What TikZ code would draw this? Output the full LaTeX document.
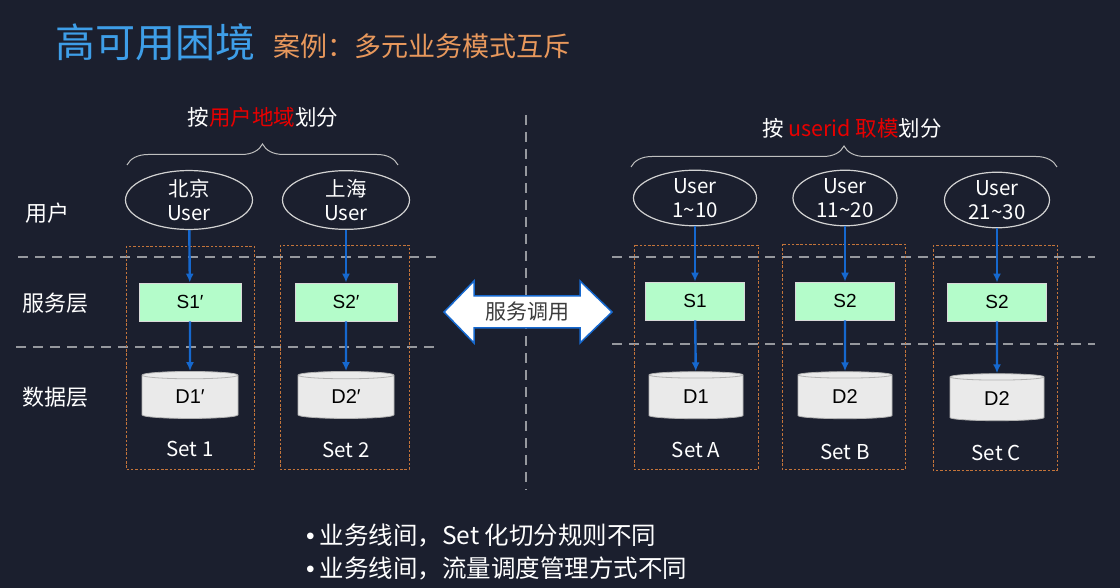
\documentclass[tikz,border=0pt]{standalone}
\usepackage{fontspec}
\setmainfont{Noto Sans CJK SC}
\newfontfamily\arialfont{Liberation Sans}
\usetikzlibrary{arrows.meta,shapes.geometric,decorations.pathreplacing}
\definecolor{bgnavy}{RGB}{27,31,46}
\definecolor{titleblue}{RGB}{62,158,232}
\definecolor{suborange}{RGB}{232,152,92}
\definecolor{setorange}{RGB}{196,116,58}
\definecolor{svcgreen}{RGB}{180,252,202}
\definecolor{dbgray}{RGB}{234,234,234}
\definecolor{flowblue}{RGB}{22,104,206}
\definecolor{sepgray}{RGB}{150,152,158}
\definecolor{hotred}{RGB}{232,0,0}
\definecolor{textgray}{RGB}{60,60,60}

\tikzset{%
  layer/.style={text=white, font=\fontsize{22}{26}\selectfont},
  user/.style={ellipse, draw=gray!35!white, line width=1.2pt, text=white, align=center, inner sep=0pt, minimum height=47pt, font=\fontsize{20.5}{24}\selectfont},
  svc/.style={draw=gray!30, line width=0.8pt, fill=svcgreen, minimum width=102pt, minimum height=38pt, inner sep=0pt, font=\arialfont\fontsize{19}{22}\selectfont},
  db/.style={cylinder, shape border rotate=90, aspect=0.25, draw=gray!60, line width=0.8pt, fill=dbgray, minimum width=96pt, minimum height=47pt, inner sep=0pt, font=\arialfont\fontsize{20}{22}\selectfont},
  setbox/.style={draw=setorange, line width=0.9pt, dash pattern=on 2.5pt off 1.8pt},
  setlabel/.style={text=white, font=\fontsize{20.5}{24}\selectfont},
  sep/.style={draw=sepgray, line width=1.8pt, dash pattern=on 10pt off 7pt},
  flow/.style={draw=flowblue, line width=2.4pt, -{LaTeX[length=9pt,width=8pt]}},
  part/.style={draw=gray!50!white, line width=1pt, decorate, decoration={brace, amplitude=21pt}},
  heading/.style={text=white, font=\fontsize{21.5}{25}\selectfont},
  bullet/.style={text=white, anchor=west, inner sep=0pt, font=\fontsize{24.5}{28}\selectfont},
}

\begin{document}
\begin{tikzpicture}[x=1pt,y=-1pt]
\fill[bgnavy] (0,0) rectangle (1120,588);
\useasboundingbox (0,0) rectangle (1120,588);

\node[anchor=west, text=titleblue, font=\fontsize{40}{46}\selectfont] (title) at (52,42) {高可用困境};
\node[anchor=west, text=suborange, font=\fontsize{27}{30}\selectfont] (subtitle) at (270,46) {案例：多元业务模式互斥};

% separators
\draw[sep] (18,257) -- (440,257);
\draw[sep] (16,347) -- (440,347);
\draw[sep] (612,257) -- (1095,257);
\draw[sep] (612,344) -- (1095,344);
\draw[sep] (526,115) -- (526,490);

% sets
\draw[setbox] (126,246) rectangle (254,469);
\draw[setbox] (280,245) rectangle (409,469);
\draw[setbox] (634,245) rectangle (758,469);
\draw[setbox] (782,244) rectangle (905,469);
\draw[setbox] (933,245) rectangle (1057,470);

\node[layer] (lyuser) at (47,213) {用户};
\node[layer] (lysvc) at (56,303) {服务层};
\node[layer] (lydata) at (56,397) {数据层};

% by region
\node[heading] (hdregion) at (263,117) {按\textcolor{hotred}{用户地域}划分};
\draw[part] (127,165) -- (398,165);
\node[user, minimum width=127pt] (ubj) at (189,200) {北京\\User};
\node[user, minimum width=127pt] (ush) at (346,200) {上海\\User};
\node[svc] (s1) at (190,302) {S1′};
\node[svc] (s2) at (346,302) {S2′};
\node[db] (d1) at (190,397) {D1′};
\node[db] (d2) at (346,397) {D2′};
\node[setlabel] (set1) at (190,449) {Set 1};
\node[setlabel] (set2) at (346,450) {Set 2};

% by userid
\node[heading] (hduid) at (852,128) {按 \textcolor{hotred}{userid 取模}划分};
\draw[part] (631,167) -- (1057,167);
\node[user, minimum width=123pt] (ua) at (695,198) {User\\1\textasciitilde10};
\node[user, minimum width=104pt] (ub) at (845,198) {User\\11\textasciitilde20};
\node[user, minimum width=105pt] (uc) at (997,200) {User\\21\textasciitilde30};
\node[svc, minimum width=99pt] (sa) at (695,301) {S1};
\node[svc, minimum width=99pt] (sb) at (845,301) {S2};
\node[svc, minimum width=99pt] (sc) at (997,302) {S2};
\node[db, minimum width=94pt] (da) at (696,397) {D1};
\node[db, minimum width=94pt] (db) at (845,397) {D2};
\node[db, minimum width=94pt] (dc) at (997,399) {D2};
\node[setlabel] (seta) at (696,450) {Set A};
\node[setlabel] (setb) at (845,452) {Set B};
\node[setlabel] (setc) at (996,453) {Set C};

\draw[flow] (ubj) -- (s1);
\draw[flow] (s1) -- (d1);
\draw[flow] (ush) -- (s2);
\draw[flow] (s2) -- (d2);
\draw[flow] (ua) -- (sa);
\draw[flow] (sa) -- (da);
\draw[flow] (ub) -- (sb);
\draw[flow] (sb) -- (db);
\draw[flow] (uc) -- (sc);
\draw[flow] (sc) -- (dc);

% service call
\filldraw[fill=white, draw=flowblue, line width=1.5pt] (444,312) -- (474,281) -- (474,296) -- (580,296) -- (580,281) -- (612,312) -- (580,343) -- (580,328) -- (474,328) -- (474,343) -- cycle;
\node[text=textgray, font=\fontsize{21}{25}\selectfont] (call) at (527,312) {服务调用};

\node[bullet] (note1) at (306,535) {{\arialfont •}\hspace{5pt}业务线间，Set 化切分规则不同};
\node[bullet] (note2) at (306,568) {{\arialfont •}\hspace{5pt}业务线间，流量调度管理方式不同};
\end{tikzpicture}
\end{document}
